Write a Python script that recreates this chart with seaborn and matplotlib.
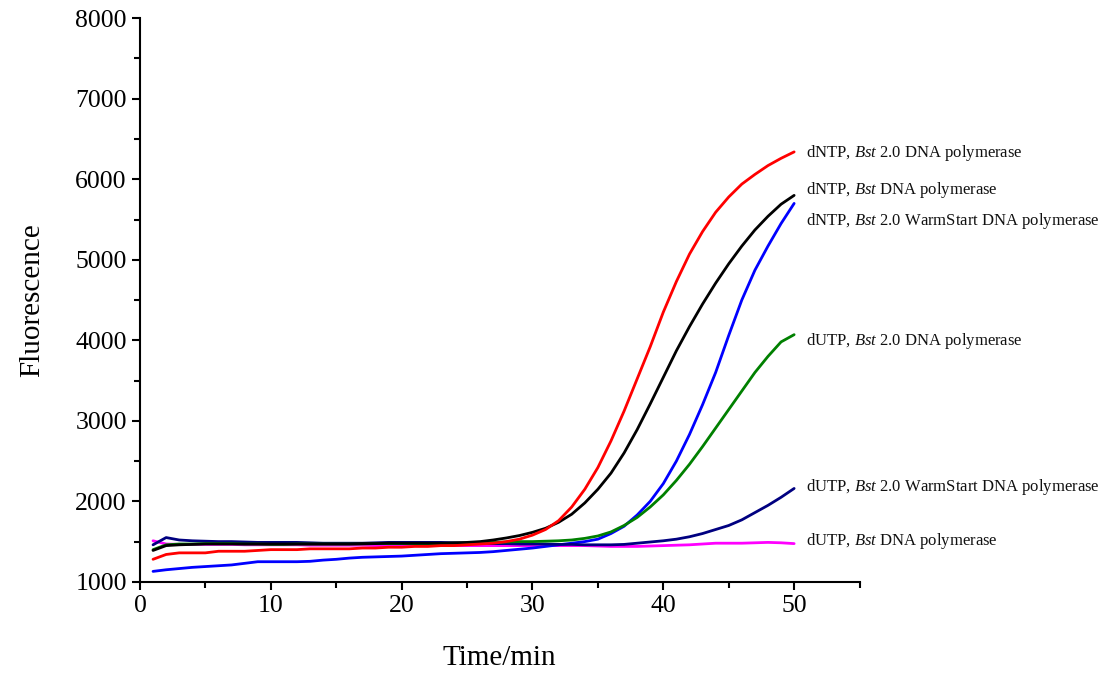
import matplotlib
matplotlib.use("Agg")
import matplotlib.pyplot as plt
from matplotlib.ticker import MultipleLocator
import seaborn as sns
import pandas as pd

sns.set_theme(style="ticks")
plt.rcParams['font.family'] = ['Liberation Serif', 'DejaVu Serif']
plt.rcParams['mathtext.fontset'] = 'custom'
plt.rcParams['mathtext.rm'] = 'Liberation Serif'
plt.rcParams['mathtext.it'] = 'Liberation Serif:italic'
plt.rcParams['text.color'] = 'black'
plt.rcParams['axes.labelcolor'] = 'black'

# time in minutes
time = list(range(1, 51))

# fluorescence readings per reaction
dntp_bst20 = [1280, 1340, 1360, 1360, 1360, 1380, 1380, 1380, 1390, 1400,
              1400, 1400, 1410, 1410, 1410, 1410, 1420, 1420, 1430, 1430,
              1440, 1440, 1450, 1450, 1460, 1470, 1480, 1500, 1530, 1580,
              1650, 1760, 1930, 2150, 2420, 2750, 3120, 3520, 3920, 4350,
              4730, 5070, 5350, 5590, 5780, 5940, 6060, 6170, 6260, 6340]
dntp_bst = [1390, 1450, 1460, 1465, 1470, 1470, 1470, 1470, 1470, 1470,
            1470, 1470, 1470, 1470, 1470, 1470, 1475, 1475, 1480, 1480,
            1480, 1480, 1480, 1485, 1490, 1500, 1520, 1545, 1575, 1615,
            1665, 1740, 1840, 1980, 2150, 2350, 2600, 2890, 3210, 3540,
            3870, 4170, 4450, 4710, 4950, 5170, 5370, 5540, 5690, 5800]
dntp_ws = [1130, 1150, 1165, 1180, 1190, 1200, 1210, 1230, 1250, 1250,
           1250, 1250, 1255, 1270, 1280, 1295, 1305, 1310, 1315, 1320,
           1330, 1340, 1350, 1355, 1360, 1365, 1375, 1390, 1405, 1420,
           1440, 1460, 1480, 1500, 1530, 1600, 1690, 1830, 2000, 2220,
           2500, 2830, 3200, 3600, 4060, 4500, 4870, 5170, 5450, 5700]
dutp_bst20 = [1400, 1460, 1470, 1470, 1475, 1475, 1475, 1470, 1470, 1465,
              1465, 1470, 1470, 1470, 1470, 1470, 1470, 1475, 1475, 1475,
              1475, 1475, 1475, 1480, 1480, 1485, 1490, 1495, 1500, 1500,
              1505, 1510, 1520, 1540, 1570, 1620, 1700, 1800, 1930, 2080,
              2260, 2460, 2680, 2910, 3140, 3370, 3600, 3800, 3980, 4070]
dutp_ws = [1460, 1550, 1520, 1510, 1505, 1500, 1500, 1495, 1490, 1490,
           1490, 1490, 1485, 1480, 1480, 1480, 1480, 1485, 1490, 1490,
           1490, 1490, 1490, 1485, 1480, 1480, 1475, 1475, 1470, 1470,
           1470, 1465, 1465, 1460, 1460, 1460, 1465, 1480, 1495, 1510,
           1530, 1560, 1600, 1650, 1700, 1770, 1860, 1950, 2050, 2160]
dutp_bst = [1510, 1470, 1465, 1465, 1465, 1465, 1465, 1460, 1460, 1460,
            1460, 1460, 1455, 1455, 1455, 1455, 1455, 1450, 1450, 1450,
            1450, 1450, 1450, 1450, 1450, 1450, 1450, 1450, 1450, 1450,
            1450, 1450, 1450, 1450, 1445, 1440, 1440, 1440, 1445, 1450,
            1455, 1460, 1470, 1480, 1480, 1480, 1485, 1490, 1485, 1475]

# (values, colour, label, label y position) in drawing order
series = [
    (dutp_bst, "#ff00ff", "dUTP, $\\mathit{Bst}$ DNA polymerase", 1510),
    (dntp_ws, "#0000ff", "dNTP, $\\mathit{Bst}$ 2.0 WarmStart DNA polymerase", 5480),
    (dutp_ws, "#000080", "dUTP, $\\mathit{Bst}$ 2.0 WarmStart DNA polymerase", 2180),
    (dutp_bst20, "#008000", "dUTP, $\\mathit{Bst}$ 2.0 DNA polymerase", 3990),
    (dntp_bst, "#000000", "dNTP, $\\mathit{Bst}$ DNA polymerase", 5865),
    (dntp_bst20, "#ff0000", "dNTP, $\\mathit{Bst}$ 2.0 DNA polymerase", 6325),
]

fig = plt.figure(figsize=(11.02, 6.75), dpi=100)
ax = fig.add_axes([0.127, 0.138, 0.653, 0.835])

for vals, col, lab, ly in series:
    df = pd.DataFrame({"Time/min": time, "Fluorescence": vals})
    sns.lineplot(data=df, x="Time/min", y="Fluorescence", color=col,
                 linewidth=2, ax=ax)
    ax.text(50.9, ly, lab, fontsize=12, va="center", ha="left", clip_on=False,
            color="#111111")

ax.set_xlim(0, 55)
ax.set_ylim(1000, 8000)
ax.xaxis.set_major_locator(MultipleLocator(10))
ax.xaxis.set_minor_locator(MultipleLocator(5))
ax.yaxis.set_major_locator(MultipleLocator(1000))
ax.yaxis.set_minor_locator(MultipleLocator(500))
ax.tick_params(which="major", direction="out", length=6, width=1.5,
               labelsize=18.5, color="black", labelcolor="black")
ax.tick_params(which="minor", direction="out", length=4, width=1.5, color="black")
for s in ["top", "right"]:
    ax.spines[s].set_visible(False)
for s in ["left", "bottom"]:
    ax.spines[s].set_linewidth(1.5)
    ax.spines[s].set_color("black")

ax.set_xlabel("Time/min", fontsize=21, labelpad=20)
ax.set_ylabel("Fluorescence", fontsize=21, labelpad=22)

fig.savefig("out.png", dpi=100, facecolor="white")
